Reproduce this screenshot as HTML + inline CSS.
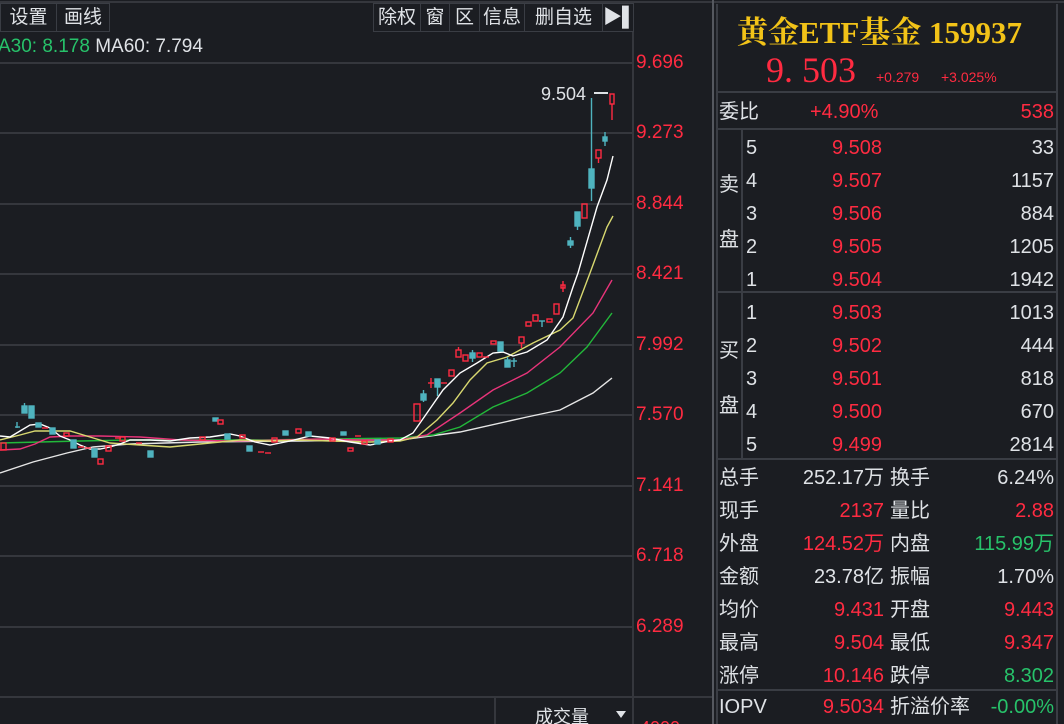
<!DOCTYPE html>
<html style="width:1064px;height:724px;overflow:hidden"><head><meta charset="utf-8"><style>
*{margin:0;padding:0;box-sizing:border-box}
html,body{width:1064px;height:724px;overflow:hidden}
body{background:#1b1d22;position:relative;font-family:"Liberation Sans","Noto Sans CJK SC",sans-serif;color:#d8dbe0}
.a{position:absolute;white-space:nowrap}
.r{color:#ff2b41}.g{color:#27c26a}.w{color:#dfe2e6}
.btn{position:absolute;top:3px;height:29px;border:1px solid #3a3d44;font-size:19px;line-height:27px;text-align:center;color:#dfe2e6}
.ax{position:absolute;left:636px;font-size:19px;color:#ff2b41}
.p{position:absolute;font-size:20px;line-height:24px}
</style></head><body>
<svg class="a" style="left:0;top:0" width="1064" height="724">
<g stroke="#35373d" stroke-width="2">
<line x1="0" y1="63" x2="633" y2="63"/><line x1="0" y1="133" x2="633" y2="133"/><line x1="0" y1="204" x2="633" y2="204"/><line x1="0" y1="274" x2="633" y2="274"/><line x1="0" y1="345" x2="633" y2="345"/><line x1="0" y1="415" x2="633" y2="415"/><line x1="0" y1="486" x2="633" y2="486"/><line x1="0" y1="556" x2="633" y2="556"/><line x1="0" y1="627" x2="633" y2="627"/>
<line x1="0" y1="697" x2="713" y2="697"/>
<line x1="633" y1="32" x2="633" y2="724"/><line x1="495" y1="697" x2="495" y2="724"/>
<line x1="0" y1="2" x2="1064" y2="2"/>
</g>
<line x1="713" y1="0" x2="713" y2="724" stroke="#55585f" stroke-width="2"/>
<line x1="717" y1="4" x2="717" y2="724" stroke="#3a3d44" stroke-width="2"/>
<line x1="1057" y1="4" x2="1057" y2="724" stroke="#3a3d44" stroke-width="2"/>
<g stroke="#3a3d44" stroke-width="2">
<line x1="717" y1="92" x2="1057" y2="92"/><line x1="717" y1="129" x2="1057" y2="129"/><line x1="717" y1="292" x2="1057" y2="292"/><line x1="717" y1="459" x2="1057" y2="459"/><line x1="717" y1="690" x2="1057" y2="690"/><line x1="742" y1="129" x2="742" y2="459"/>
</g>
<g fill="none" stroke-width="1.4">
<polyline stroke="#e6e6e6" points="0,473 33,462 67,453 93,447 130,444 200,442 300,441 360,440 400,440 460,432 527,417 560,410 593,393 612,378"/>
<polyline stroke="#22b83a" points="0,443 40,442 80,441 130,440 200,440 260,440 330,439 400,438 433,435 460,427 493,407 527,393 560,373 587,347 612,313"/>
<polyline stroke="#e8347a" points="0,450 20,449 35,444 50,437 70,436 100,436 140,437 180,440 230,441 280,440 320,439 360,440 400,440 427,435 460,413 493,390 527,373 560,347 593,313 612,280"/>
<polyline stroke="#d8d870" points="0,440 20,435 35,431 70,431 90,437 110,443 140,445 170,447 200,444 240,440 270,441 300,440 330,441 370,442 400,441 417,437 437,420 453,403 470,380 487,363 507,357 533,343 560,330 573,318 590,273 607,227 613,216"/>
<polyline stroke="#ffffff" points="0,436 10,437 20,431 30,425 40,424 50,428 60,436 70,440 80,445 90,449 100,449 110,447 120,444 130,440 150,440 170,441 190,438 210,437 230,434 240,436 255,442 270,445 290,441 310,436 330,438 350,442 370,445 390,441 400,440 413,433 427,413 443,390 460,373 477,363 493,353 503,352 513,356 527,352 547,340 563,317 573,287 578,273 597,207 607,180 613,156"/>
</g>
<g stroke-width="1.4">
<g fill="#4fb3bf" stroke="#4fb3bf">
<rect x="22" y="406" width="5" height="7"/><line x1="24.5" y1="403" x2="24.5" y2="406"/>
<rect x="29" y="406" width="5" height="12"/>
<line x1="17" y1="428" x2="17" y2="422"/><line x1="15" y1="427" x2="20" y2="427"/>
<rect x="36" y="423" width="5" height="4"/><rect x="50" y="428" width="5" height="6"/>
<rect x="71" y="440" width="5" height="8"/><rect x="92" y="449" width="5" height="8"/>
<rect x="148" y="451" width="5" height="6"/><rect x="213" y="418" width="5" height="3"/>
<rect x="225" y="434" width="5" height="5"/><rect x="247" y="446" width="5" height="5"/>
<rect x="283" y="431" width="5" height="4"/><rect x="306" y="432" width="5" height="4"/>
<rect x="341" y="432" width="5" height="3"/><rect x="375" y="440" width="5" height="4"/>
<rect x="421" y="394" width="5" height="6"/><line x1="423.5" y1="390" x2="423.5" y2="402"/>
<rect x="435" y="379" width="5" height="8"/><line x1="437.5" y1="387" x2="437.5" y2="396"/>
<rect x="470" y="353" width="5" height="5"/><line x1="472.5" y1="350" x2="472.5" y2="362"/>
<rect x="498" y="342" width="5" height="9"/>
<rect x="505" y="360" width="5" height="7"/><line x1="507.5" y1="357" x2="507.5" y2="367"/>
<line x1="511" y1="361" x2="517" y2="361"/><line x1="514" y1="358" x2="514" y2="367"/>
<line x1="539" y1="321" x2="545" y2="321"/><line x1="542" y1="321" x2="542" y2="327"/>
<rect x="568" y="241" width="5" height="4"/><line x1="570.5" y1="237" x2="570.5" y2="248"/>
<rect x="575" y="212" width="5" height="14"/><line x1="577.5" y1="226" x2="577.5" y2="230"/>
<rect x="589" y="169" width="5" height="19"/><line x1="591.5" y1="98" x2="591.5" y2="201"/>
<rect x="603" y="137" width="4" height="4"/><line x1="605" y1="132" x2="605" y2="146"/>
</g>
<g fill="none" stroke="#ff2b41">
<rect x="1" y="443" width="5" height="7"/>
<line x1="42" y1="428" x2="48" y2="428"/><rect x="64" y="433" width="5" height="3"/>
<line x1="78" y1="447" x2="84" y2="447"/><line x1="85" y1="448" x2="91" y2="448"/>
<rect x="98" y="459" width="5" height="5"/><rect x="106" y="446" width="5" height="5"/>
<line x1="115" y1="438" x2="121" y2="438"/><line x1="136" y1="443" x2="142" y2="443"/>
<rect x="120" y="437" width="5" height="4"/><rect x="200" y="437" width="5" height="3"/>
<rect x="218" y="420" width="5" height="4"/><rect x="240" y="435" width="5" height="3"/>
<line x1="258" y1="452" x2="264" y2="452"/><line x1="265" y1="453" x2="271" y2="453"/>
<rect x="272" y="438" width="5" height="4"/><rect x="296" y="429" width="5" height="4"/>
<rect x="330" y="438" width="5" height="3"/><rect x="348" y="448" width="5" height="3"/>
<line x1="355" y1="436" x2="361" y2="436"/><rect x="362" y="441" width="5" height="3"/>
<rect x="388" y="439" width="5" height="3"/>
<rect x="414" y="404" width="6" height="17"/>
<line x1="428" y1="383" x2="434" y2="383"/><line x1="431" y1="378" x2="431" y2="388"/>
<line x1="441" y1="383" x2="447" y2="383"/>
<rect x="449" y="370" width="5" height="6"/>
<rect x="456" y="350" width="5" height="7"/><line x1="458.5" y1="347" x2="458.5" y2="350"/>
<rect x="463" y="355" width="5" height="6"/>
<rect x="477" y="353" width="5" height="4"/>
<line x1="483" y1="357" x2="489" y2="357"/>
<rect x="491" y="341" width="5" height="3"/>
<rect x="519" y="337" width="5" height="6"/><line x1="521.5" y1="343" x2="521.5" y2="348"/>
<rect x="526" y="322" width="5" height="4"/><rect x="533" y="315" width="5" height="6"/>
<rect x="547" y="319" width="5" height="3"/>
<rect x="554" y="304" width="5" height="10"/>
<rect x="561" y="285" width="4" height="3"/><line x1="563" y1="281" x2="563" y2="292"/>
<rect x="582" y="204" width="5" height="14"/>
<rect x="596" y="150" width="5" height="8"/><line x1="598.5" y1="158" x2="598.5" y2="163"/>
<rect x="610" y="94" width="4" height="10"/><line x1="612" y1="104" x2="612" y2="120"/>
</g>
<line x1="594" y1="93" x2="608" y2="93" stroke="#dfe2e6" stroke-width="2"/>
</g>
<polygon points="616,711 626,711 621,718" fill="#dfe2e6"/>
</svg>
<div class="btn" style="left:0;width:57px">设置</div>
<div class="btn" style="left:56px;width:54px">画线</div>
<div class="btn" style="left:373px;width:48px">除权</div>
<div class="btn" style="left:420px;width:30px">窗</div>
<div class="btn" style="left:449px;width:31px">区</div>
<div class="btn" style="left:479px;width:46px">信息</div>
<div class="btn" style="left:524px;width:79px">删自选</div>
<div class="btn" style="left:602px;width:32px">▶▌</div>
<div class="a" style="left:-2px;top:36px;font-size:19px"><span class="g">A30: 8.178</span> <span class="w">MA60: 7.794</span></div>
<div class="a w" style="left:541px;top:84px;font-size:18px">9.504</div>
<div class="ax" style="top:52px">9.696</div><div class="ax" style="top:122px">9.273</div><div class="ax" style="top:193px">8.844</div><div class="ax" style="top:263px">8.421</div><div class="ax" style="top:334px">7.992</div><div class="ax" style="top:404px">7.570</div><div class="ax" style="top:475px">7.141</div><div class="ax" style="top:545px">6.718</div><div class="ax" style="top:616px">6.289</div>
<div class="a w" style="left:535px;top:703px;font-size:18px">成交量</div>
<div class="a r" style="left:640px;top:718px;font-size:18px;height:6px;overflow:hidden">4000</div>
<div class="a" style="left:737px;top:7px;font-size:31px;font-weight:bold;color:#f2c318;font-family:'Liberation Serif','Noto Serif CJK SC',serif">黄金ETF基金 159937</div>
<div class="a r" style="left:766px;top:49px;font-size:36px;font-family:'Liberation Serif',serif">9. 503</div>
<div class="a r" style="left:876px;top:69px;font-size:14px">+0.279</div>
<div class="a r" style="left:941px;top:69px;font-size:14px">+3.025%</div>
<div class="p w" style="left:719px;top:100px">委比</div><div class="p r" style="left:810px;top:100px">+4.90%</div><div class="p r" style="right:10px;top:100px">538</div>
<div class="p w" style="left:719px;top:173px">卖</div><div class="p w" style="left:719px;top:228px">盘</div>
<div class="p w" style="left:719px;top:339px">买</div><div class="p w" style="left:719px;top:394px">盘</div>
<div class="p w" style="left:746px;top:132px;line-height:33px">5<br>4<br>3<br>2<br>1</div>
<div class="p r" style="left:832px;top:132px;line-height:33px">9.508<br>9.507<br>9.506<br>9.505<br>9.504</div>
<div class="p w" style="right:10px;top:132px;line-height:33px;text-align:right">33<br>1157<br>884<br>1205<br>1942</div>
<div class="p w" style="left:746px;top:297px;line-height:33px">1<br>2<br>3<br>4<br>5</div>
<div class="p r" style="left:832px;top:297px;line-height:33px">9.503<br>9.502<br>9.501<br>9.500<br>9.499</div>
<div class="p w" style="right:10px;top:297px;line-height:33px;text-align:right">1013<br>444<br>818<br>670<br>2814</div>
<div class="p w" style="left:719px;top:462px;line-height:33px">总手<br>现手<br>外盘<br>金额<br>均价<br>最高<br>涨停</div>
<div class="p" style="right:180px;top:462px;line-height:33px;text-align:right"><span class="w">252.17万</span><br><span class="r">2137</span><br><span class="r">124.52万</span><br><span class="w">23.78亿</span><br><span class="r">9.431</span><br><span class="r">9.504</span><br><span class="r">10.146</span></div>
<div class="p w" style="left:890px;top:462px;line-height:33px">换手<br>量比<br>内盘<br>振幅<br>开盘<br>最低<br>跌停</div>
<div class="p" style="right:10px;top:462px;line-height:33px;text-align:right"><span class="w">6.24%</span><br><span class="r">2.88</span><br><span class="g">115.99万</span><br><span class="w">1.70%</span><br><span class="r">9.443</span><br><span class="r">9.347</span><br><span class="g">8.302</span></div>
<div class="p w" style="left:719px;top:695px">IOPV</div><div class="p r" style="right:180px;top:695px">9.5034</div><div class="p w" style="left:890px;top:695px">折溢价率</div><div class="p g" style="right:10px;top:695px">-0.00%</div>
</body></html>
